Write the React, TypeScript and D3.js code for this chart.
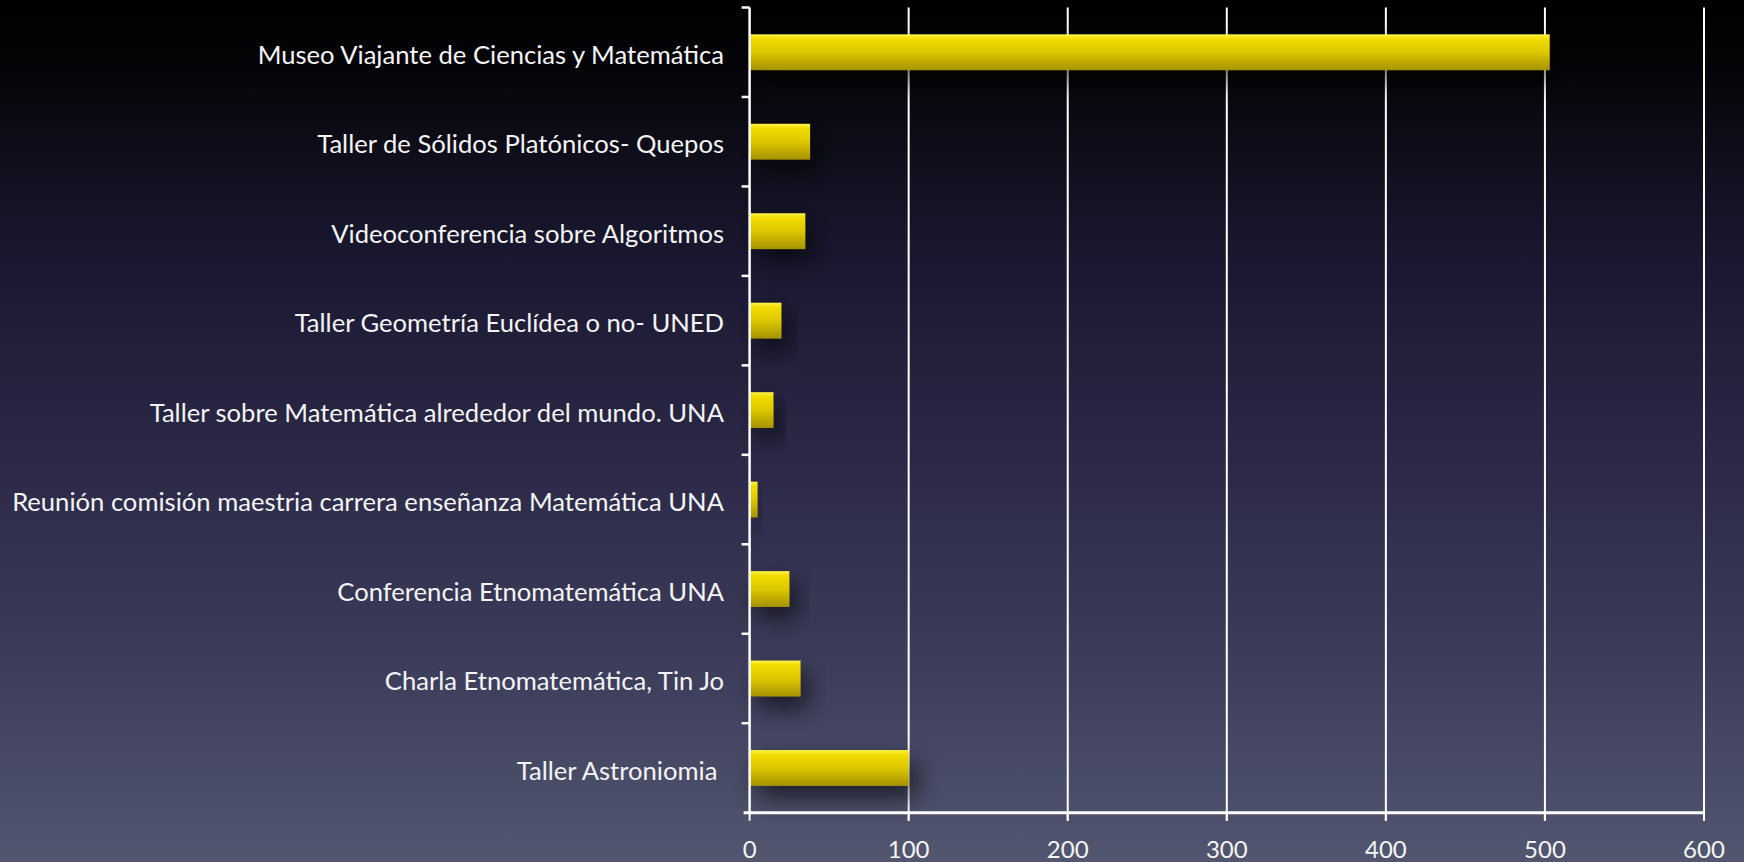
import React from "react";
import * as d3 from "d3";

const categories = [
  "Museo Viajante de Ciencias y Matemática",
  "Taller de Sólidos Platónicos- Quepos",
  "Videoconferencia sobre Algoritmos",
  "Taller Geometría Euclídea o no- UNED",
  "Taller sobre Matemática alrededor del mundo. UNA",
  "Reunión comisión maestria carrera enseñanza Matemática UNA",
  "Conferencia Etnomatemática UNA",
  "Charla Etnomatemática, Tin Jo",
  "Taller Astroniomia ",
];
const values = [503, 38, 35, 20, 15, 5, 25, 32, 100];
const xTicks = [0, 100, 200, 300, 400, 500, 600];

const W = 1744;
const H = 862;
const left = 749.6;
const right = 1704;
const top = 7.5;
const bottom = 812.7;

export default function App() {
  const x = d3.scaleLinear().domain([0, 600]).range([left, right]);
  const y = d3
    .scaleBand<string>()
    .domain(categories)
    .range([top, bottom])
    .paddingInner(0.6)
    .paddingOuter(0.3);
  const band = d3.scaleBand<string>().domain(categories).range([top, bottom]);
  const step = band.step();
  const boundaries = d3.range(categories.length).map((i) => top + i * step);
  const font = "Lato, 'Open Sans', sans-serif";

  return (
    <svg
      width={W}
      height={H}
      style={{ position: "absolute", left: 0, top: 0, display: "block" }}
    >
      <defs>
        <linearGradient id="bg" x1="0" y1="0" x2="0" y2="1">
          <stop offset="0" stopColor="#000000" />
          <stop offset="0.08" stopColor="#050509" />
          <stop offset="0.3" stopColor="#1a1830" />
          <stop offset="0.55" stopColor="#2c2a48" />
          <stop offset="0.8" stopColor="#3f405e" />
          <stop offset="1" stopColor="#52566f" />
        </linearGradient>
        <linearGradient id="bar" x1="0" y1="0" x2="0" y2="1">
          <stop offset="0" stopColor="#fff64a" />
          <stop offset="0.12" stopColor="#f2dc05" />
          <stop offset="0.5" stopColor="#dcc800" />
          <stop offset="1" stopColor="#a69200" />
        </linearGradient>
        <filter id="shadow" x="-30%" y="-80%" width="180%" height="300%">
          <feDropShadow dx="8" dy="12" stdDeviation="12" floodColor="#000" floodOpacity="0.6" />
        </filter>
      </defs>
      <rect x={0} y={0} width={W} height={H} fill="url(#bg)" />

      {/* gridlines */}
      {xTicks.slice(1).map((t) => (
        <line
          key={"g" + t}
          x1={x(t)}
          x2={x(t)}
          y1={top}
          y2={bottom + 8}
          stroke="#ffffff"
          strokeWidth={2}
        />
      ))}

      {/* bars */}
      {categories.map((c, i) => (
        <rect
          key={c}
          x={x(0)}
          y={y(c)}
          width={x(values[i]) - x(0)}
          height={y.bandwidth()}
          fill="url(#bar)"
          filter="url(#shadow)"
        />
      ))}

      {/* y axis */}
      <line x1={left} x2={left} y1={top} y2={bottom} stroke="#fff" strokeWidth={2.5} />
      {boundaries.map((b, i) => (
        <line key={"yt" + i} x1={left - 8} x2={left} y1={b} y2={b} stroke="#fff" strokeWidth={2.5} />
      ))}
      {/* x axis */}
      <line x1={left - 6} x2={right} y1={bottom} y2={bottom} stroke="#fff" strokeWidth={3} />
      {xTicks.map((t) => (
        <line key={"xt" + t} x1={x(t)} x2={x(t)} y1={bottom} y2={bottom + 8} stroke="#fff" strokeWidth={2} />
      ))}
      {xTicks.map((t) => (
        <text
          key={"xl" + t}
          x={x(t)}
          y={858}
          textAnchor="middle"
          fill="#f4f4f4"
          fontFamily={font}
          fontSize={24}
        >
          {t}
        </text>
      ))}

      {/* category labels */}
      {categories.map((c) => (
        <text
          key={"l" + c}
          x={724}
          y={(y(c) as number) + y.bandwidth() / 2 + 2.5}
          dy="0.36em"
          textAnchor="end"
          fill="#f4f4f4"
          fontFamily={font}
          fontSize={25.6}
          style={{ whiteSpace: "pre" }}
        >
          {c}
        </text>
      ))}
    </svg>
  );
}
